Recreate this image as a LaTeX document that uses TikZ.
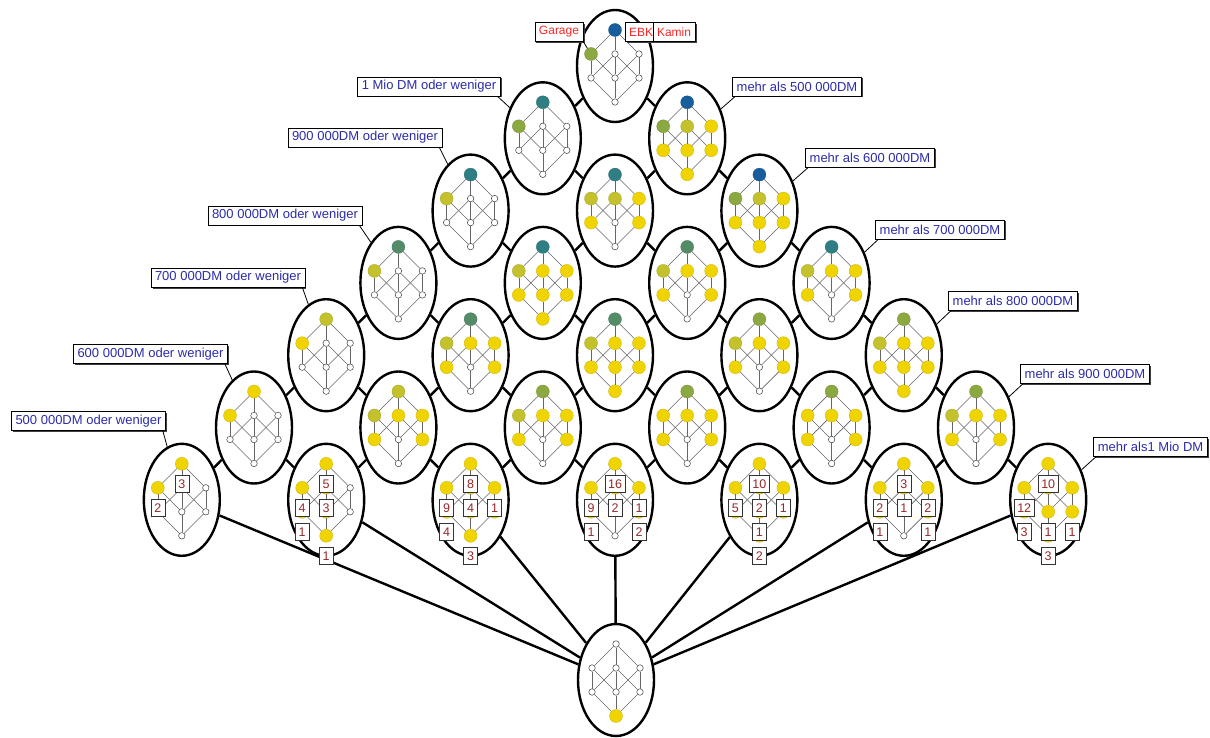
\documentclass[tikz,border=0pt]{standalone}
\usepackage{fontspec}
\setmainfont{Liberation Sans}
\usetikzlibrary{shapes.geometric,shadows,backgrounds}
\definecolor{cY}{RGB}{240,212,0}
\definecolor{cL}{RGB}{196,194,44}
\definecolor{cO}{RGB}{140,168,64}
\definecolor{cG}{RGB}{84,140,104}
\definecolor{cT}{RGB}{46,126,132}
\definecolor{cB}{RGB}{24,94,156}
\definecolor{cLab}{RGB}{44,44,170}
\definecolor{cRed}{RGB}{250,40,40}
\definecolor{cNum}{RGB}{150,40,40}
\tikzset{
  outer/.style={ellipse, draw=black, line width=2.4pt, fill=white, minimum width=76pt, minimum height=112pt, inner sep=0pt},
  link/.style={draw=black, line width=2.4pt},
  ie/.style={draw=black!60, line width=0.55pt},
  s-w/.style={circle, draw=black!75, fill=white, line width=0.5pt, minimum size=6.5pt, inner sep=0pt},
  sc/.style={circle, fill=#1, draw=#1!85!black, line width=0.3pt, minimum size=13pt, inner sep=0pt},
  s-y/.style={sc=cY}, s-l/.style={sc=cL}, s-o/.style={sc=cO},
  s-g/.style={sc=cG}, s-t/.style={sc=cT}, s-b/.style={sc=cB},
  cnt/.style={draw=black!80, fill=white, line width=0.6pt, text=cNum, font=\fontsize{12.5}{12.5}\selectfont, inner xsep=3pt, inner ysep=0pt, minimum height=17pt, minimum width=14pt},
  lab/.style={draw=black, fill=white, line width=0.7pt, text=cLab, font=\fontsize{13}{13}\selectfont, inner xsep=4pt, inner ysep=0pt, minimum height=19pt, drop shadow={shadow xshift=1.5pt, shadow yshift=-1.5pt, fill=black!75, opacity=1}},
  rlab/.style={lab, text=cRed, font=\fontsize{12}{12}\selectfont},
  tail/.style={draw=black, line width=0.8pt}
}
\newcommand\lat[9]{%
  \begin{scope}[shift={(#1.center)}]
    \node[s-#2] (#1-T) at (0,-36) {};
    \node[s-#3] (#1-A) at (-24,-12) {};
    \node[s-#4] (#1-B) at (0,-12) {};
    \node[s-#5] (#1-C) at (24,-12) {};
    \node[s-#6] (#1-F) at (-24,12) {};
    \node[s-#7] (#1-G) at (0,12) {};
    \node[s-#8] (#1-H) at (24,12) {};
    \node[s-#9] (#1-Z) at (0,36) {};
  \end{scope}
  \foreach \p/\q in {T/A,T/B,T/C,A/F,A/G,B/F,B/G,B/H,C/G,C/H,F/Z,G/Z,H/Z}{\draw[ie] (#1-\p) -- (#1-\q);}%
}
\newcommand\cnt[2]{\node[cnt] (#1-n) at ([yshift=-20pt]#1.center) {#2};}
\begin{document}
\begin{tikzpicture}[x=1pt,y=-1pt]
\useasboundingbox (0,0) rectangle (1210,738);
% outer ellipses
\foreach \i in {0,...,6}{\foreach \j in {0,...,6}{%
  \pgfmathtruncatemacro\s{\i+\j}%
  \ifnum\s<7
    \node[outer] (e\i\j) at ({615+72.2*(\j-\i)},{66+72.3*\s}) {};
  \fi}}
\node[outer] (eb) at (616,680) {};
% links
\begin{pgfonlayer}{background}
\fill[white] (0,0) rectangle (1210,738);
\foreach \i in {0,...,5}{\foreach \j in {0,...,5}{%
  \pgfmathtruncatemacro\s{\i+\j}%
  \pgfmathtruncatemacro\ni{\i+1}%
  \pgfmathtruncatemacro\nj{\j+1}%
  \ifnum\s<6
    \draw[link] (e\i\j) -- (e\ni\j);
    \draw[link] (e\i\j) -- (e\i\nj);
  \fi}}
\foreach \i in {0,...,6}{\pgfmathtruncatemacro\j{6-\i}\draw[link] (e\i\j) -- (eb);}
\end{pgfonlayer}
% inner lattices: T A B C F G H Z
\lat{e00}{b}{o}{w}{w}{w}{w}{w}{w}
\lat{e10}{t}{o}{w}{w}{w}{w}{w}{w}
\lat{e01}{b}{o}{l}{y}{y}{y}{y}{y}
\lat{e20}{t}{l}{w}{w}{w}{w}{w}{w}
\lat{e11}{t}{l}{l}{y}{y}{w}{y}{w}
\lat{e02}{b}{o}{l}{y}{y}{y}{y}{y}
\lat{e30}{g}{l}{w}{w}{w}{w}{w}{w}
\lat{e21}{t}{l}{y}{y}{y}{y}{y}{y}
\lat{e12}{g}{l}{y}{y}{y}{w}{y}{w}
\lat{e03}{t}{l}{y}{y}{y}{w}{y}{w}
\lat{e40}{l}{y}{w}{w}{w}{w}{w}{w}
\lat{e31}{g}{l}{y}{y}{y}{w}{y}{w}
\lat{e22}{g}{l}{y}{y}{y}{y}{y}{y}
\lat{e13}{o}{l}{y}{y}{y}{w}{y}{w}
\lat{e04}{o}{l}{y}{y}{y}{y}{y}{y}
\lat{e50}{y}{y}{w}{w}{w}{w}{w}{w}
\lat{e41}{l}{l}{y}{y}{y}{w}{y}{w}
\lat{e32}{o}{l}{y}{y}{y}{w}{y}{w}
\lat{e23}{o}{y}{y}{y}{y}{w}{y}{w}
\lat{e14}{o}{y}{y}{y}{y}{w}{y}{w}
\lat{e05}{o}{l}{y}{y}{y}{w}{y}{w}
\lat{e60}{y}{y}{w}{w}{w}{w}{w}{w}
\lat{e51}{y}{y}{y}{w}{y}{y}{w}{y}
\lat{e42}{y}{y}{y}{y}{y}{y}{y}{y}
\lat{e33}{y}{y}{y}{y}{y}{w}{y}{w}
\lat{e24}{y}{y}{y}{y}{y}{y}{y}{y}
\lat{e15}{y}{y}{y}{y}{y}{w}{y}{w}
\lat{e06}{y}{y}{y}{y}{y}{y}{y}{y}
\lat{eb}{w}{w}{w}{w}{w}{w}{w}{y}
% object counts
\cnt{e60-T}{3}\cnt{e60-A}{2}
\cnt{e51-T}{5}\cnt{e51-A}{4}\cnt{e51-B}{3}\cnt{e51-F}{1}\cnt{e51-Z}{1}
\cnt{e42-T}{8}\cnt{e42-A}{9}\cnt{e42-B}{4}\cnt{e42-C}{1}\cnt{e42-F}{4}\cnt{e42-Z}{3}
\cnt{e33-T}{16}\cnt{e33-A}{9}\cnt{e33-B}{2}\cnt{e33-C}{1}\cnt{e33-F}{1}\cnt{e33-H}{2}
\cnt{e24-T}{10}\cnt{e24-A}{5}\cnt{e24-B}{2}\cnt{e24-C}{1}\cnt{e24-G}{1}\cnt{e24-Z}{2}
\cnt{e15-T}{3}\cnt{e15-A}{2}\cnt{e15-B}{1}\cnt{e15-C}{2}\cnt{e15-F}{1}\cnt{e15-H}{1}
\cnt{e06-T}{10}\cnt{e06-A}{12}\cnt{e06-F}{3}\cnt{e06-G}{1}\cnt{e06-H}{1}\cnt{e06-Z}{3}
% attribute labels
\node[rlab] (Lg) at (559,32) {Garage};
\node[rlab] (Le) at (641,32) {EBK};
\node[rlab] (Lk) at (674,32) {Kamin};
\draw[tail] (Lg.south east) -- (e00-A);
% left labels
\node[lab] (L1) at (429,86.5) {1 Mio DM oder weniger};
\node[lab] (L2) at (365,137.5) {900 000DM oder weniger};
\node[lab] (L3) at (285,215.5) {800 000DM oder weniger};
\node[lab] (L4) at (228,277.5) {700 000DM oder weniger};
\node[lab] (L5) at (150.5,354) {600 000DM oder weniger};
\node[lab] (L6) at (88.5,421) {500 000DM oder weniger};
\draw[tail] ([xshift=-3pt]L1.south east) -- (e10);
\draw[tail] ([xshift=-3pt]L2.south east) -- (e20);
\draw[tail] ([xshift=-3pt]L3.south east) -- (e30);
\draw[tail] ([xshift=-3pt]L4.south east) -- (e40);
\draw[tail] ([xshift=-3pt]L5.south east) -- (e50);
\draw[tail] ([xshift=-3pt]L6.south east) -- (e60);
% right labels
\node[lab] (R1) at (797,86.5) {mehr als 500 000DM};
\node[lab] (R2) at (870,157.5) {mehr als 600 000DM};
\node[lab] (R3) at (940,229.5) {mehr als 700 000DM};
\node[lab] (R4) at (1013,300.5) {mehr als 800 000DM};
\node[lab] (R5) at (1085,373.5) {mehr als 900 000DM};
\node[lab] (R6) at (1150.5,446.5) {mehr als1 Mio DM};
\draw[tail] ([xshift=3pt]R1.south west) -- (e01);
\draw[tail] ([xshift=3pt]R2.south west) -- (e02);
\draw[tail] ([xshift=3pt]R3.south west) -- (e03);
\draw[tail] ([xshift=3pt]R4.south west) -- (e04);
\draw[tail] ([xshift=3pt]R5.south west) -- (e05);
\draw[tail] ([xshift=3pt]R6.south west) -- (e06);
\end{tikzpicture}
\end{document}
